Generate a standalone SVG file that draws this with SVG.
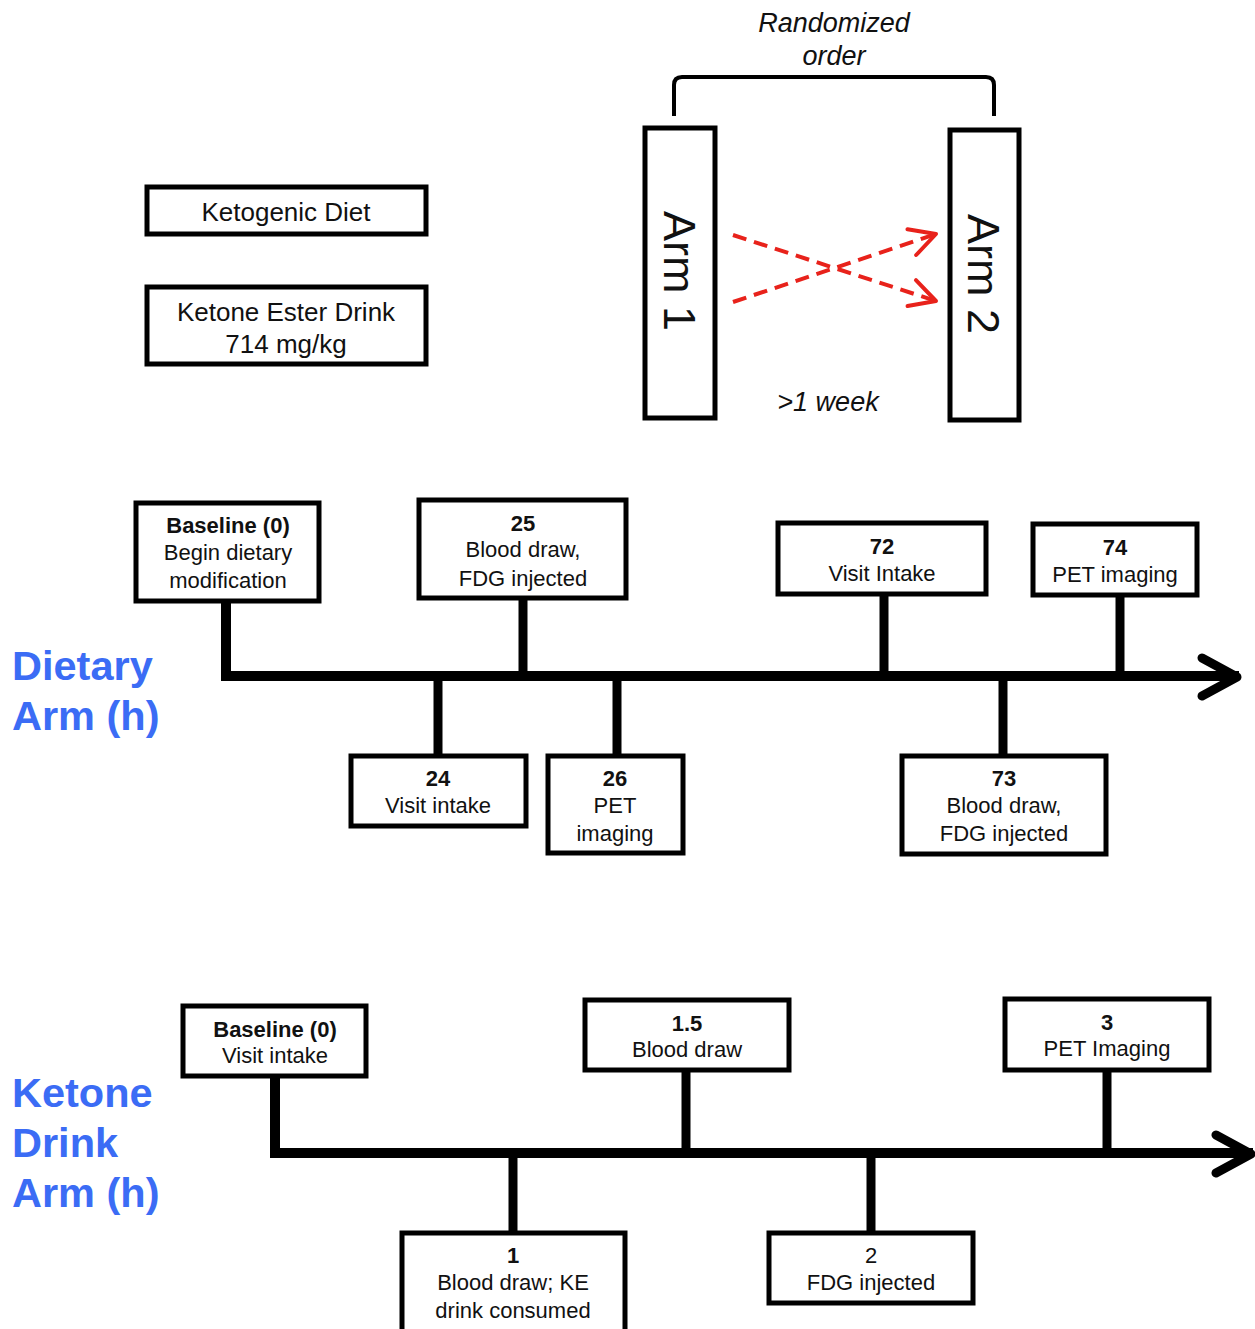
<svg xmlns="http://www.w3.org/2000/svg" width="1255" height="1329" viewBox="0 0 1255 1329">
<defs>
<style>
.box{fill:#fff;stroke:#000;stroke-width:5}
.t{font-family:"Liberation Sans",Arial,sans-serif;font-size:22px;fill:#111;text-anchor:middle}
.b{font-weight:bold}
.big{font-family:"Liberation Sans",Arial,sans-serif;font-size:26px;fill:#111;text-anchor:middle}
.arm{font-family:"Liberation Sans",Arial,sans-serif;font-size:45px;fill:#111;text-anchor:middle}
.it{font-family:"Liberation Sans",Arial,sans-serif;font-size:27px;font-style:italic;fill:#111;text-anchor:middle}
.lab{font-family:"Liberation Sans",Arial,sans-serif;font-size:41.5px;font-weight:bold;fill:#3b6cf5}
.tl{stroke:#000;stroke-width:10;fill:none;stroke-linecap:square}
.stem{stroke:#000;stroke-width:9;fill:none}
.head{stroke:#000;stroke-width:9;fill:none;stroke-linecap:round;stroke-linejoin:round}
.red{stroke:#e8221b;stroke-width:4;fill:none;stroke-dasharray:14 8}
</style>
<marker id="ra" viewBox="0 0 12 12" refX="11" refY="6" markerWidth="8.5" markerHeight="8.5" markerUnits="strokeWidth" orient="auto">
<path d="M2,1.2 L11,6 L2,10.8" fill="none" stroke="#e8221b" stroke-width="1.4" stroke-linecap="round" stroke-linejoin="round"/>
</marker>
</defs>

<g id="bracket">
<path d="M674,116 V85 Q674,77 682,77 H986 Q994,77 994,85 V116" fill="none" stroke="#000" stroke-width="4"/>
<text class="it" x="834" y="32">Randomized</text>
<text class="it" x="834" y="65">order</text>
</g>

<g id="arm1">
<rect class="box" x="645" y="128" width="70" height="290"/>
<text class="arm" transform="translate(680,271) rotate(90)" x="0" y="16">Arm 1</text>
</g>
<g id="arm2">
<rect class="box" x="950" y="130" width="69" height="290"/>
<text class="arm" transform="translate(984,274) rotate(90)" x="0" y="16">Arm 2</text>
</g>
<text class="it" x="828" y="411">&gt;1 week</text>

<g id="keto-diet">
<rect class="box" x="147" y="187" width="279" height="47"/>
<text class="big" x="286" y="221">Ketogenic Diet</text>
</g>
<g id="ketone-ester">
<rect class="box" x="147" y="287" width="279" height="77"/>
<text class="big" x="286" y="321">Ketone Ester Drink</text>
<text class="big" x="286" y="353">714 mg/kg</text>
</g>

<g id="labels">
<text class="lab" x="12" y="680">Dietary</text>
<text class="lab" x="12" y="730">Arm (h)</text>
<text class="lab" x="12" y="1107">Ketone</text>
<text class="lab" x="12" y="1157">Drink</text>
<text class="lab" x="12" y="1207">Arm (h)</text>
</g>

<g id="connectors">
<line class="red" x1="733" y1="235" x2="936" y2="301" marker-end="url(#ra)"/>
<line class="red" x1="733" y1="302" x2="936" y2="234" marker-end="url(#ra)"/>
<!-- dietary timeline -->
<path class="tl" d="M226,601 V676 H1234"/>
<path class="head" d="M1202,658 L1237,677 L1202,696"/>
<line class="stem" x1="523" y1="598" x2="523" y2="676"/>
<line class="stem" x1="884" y1="594" x2="884" y2="676"/>
<line class="stem" x1="1120" y1="595" x2="1120" y2="676"/>
<line class="stem" x1="438" y1="676" x2="438" y2="756"/>
<line class="stem" x1="617" y1="676" x2="617" y2="756"/>
<line class="stem" x1="1003" y1="676" x2="1003" y2="756"/>
<!-- ketone timeline -->
<path class="tl" d="M275,1076 V1153 H1248"/>
<path class="head" d="M1216,1135 L1251,1154 L1216,1173"/>
<line class="stem" x1="686" y1="1070" x2="686" y2="1153"/>
<line class="stem" x1="1107" y1="1070" x2="1107" y2="1153"/>
<line class="stem" x1="513" y1="1153" x2="513" y2="1233"/>
<line class="stem" x1="871" y1="1153" x2="871" y2="1233"/>
</g>

<g id="d-0">
<rect class="box" x="136" y="503" width="183" height="98"/>
<text class="t b" x="228" y="533">Baseline (0)</text>
<text class="t" x="228" y="560">Begin dietary</text>
<text class="t" x="228" y="588">modification</text>
</g>
<g id="d-25">
<rect class="box" x="419" y="500" width="207" height="98"/>
<text class="t b" x="523" y="531">25</text>
<text class="t" x="523" y="557">Blood draw,</text>
<text class="t" x="523" y="586">FDG injected</text>
</g>
<g id="d-72">
<rect class="box" x="778" y="523" width="208" height="71"/>
<text class="t b" x="882" y="554">72</text>
<text class="t" x="882" y="581">Visit Intake</text>
</g>
<g id="d-74">
<rect class="box" x="1033" y="524" width="164" height="71"/>
<text class="t b" x="1115" y="555">74</text>
<text class="t" x="1115" y="582">PET imaging</text>
</g>
<g id="d-24">
<rect class="box" x="351" y="756" width="175" height="70"/>
<text class="t b" x="438" y="786">24</text>
<text class="t" x="438" y="813">Visit intake</text>
</g>
<g id="d-26">
<rect class="box" x="548" y="756" width="135" height="97"/>
<text class="t b" x="615" y="786">26</text>
<text class="t" x="615" y="813">PET</text>
<text class="t" x="615" y="841">imaging</text>
</g>
<g id="d-73">
<rect class="box" x="902" y="756" width="204" height="98"/>
<text class="t b" x="1004" y="786">73</text>
<text class="t" x="1004" y="813">Blood draw,</text>
<text class="t" x="1004" y="841">FDG injected</text>
</g>

<g id="k-0">
<rect class="box" x="183" y="1006" width="183" height="70"/>
<text class="t b" x="275" y="1037">Baseline (0)</text>
<text class="t" x="275" y="1063">Visit intake</text>
</g>
<g id="k-1-5">
<rect class="box" x="585" y="1000" width="204" height="70"/>
<text class="t b" x="687" y="1031">1.5</text>
<text class="t" x="687" y="1057">Blood draw</text>
</g>
<g id="k-3">
<rect class="box" x="1005" y="999" width="204" height="71"/>
<text class="t b" x="1107" y="1030">3</text>
<text class="t" x="1107" y="1056">PET Imaging</text>
</g>
<g id="k-1">
<rect class="box" x="402" y="1233" width="223" height="100"/>
<text class="t b" x="513" y="1263">1</text>
<text class="t" x="513" y="1290">Blood draw; KE</text>
<text class="t" x="513" y="1318">drink consumed</text>
</g>
<g id="k-2">
<rect class="box" x="769" y="1233" width="204" height="70"/>
<text class="t" x="871" y="1263">2</text>
<text class="t" x="871" y="1290">FDG injected</text>
</g>
</svg>
